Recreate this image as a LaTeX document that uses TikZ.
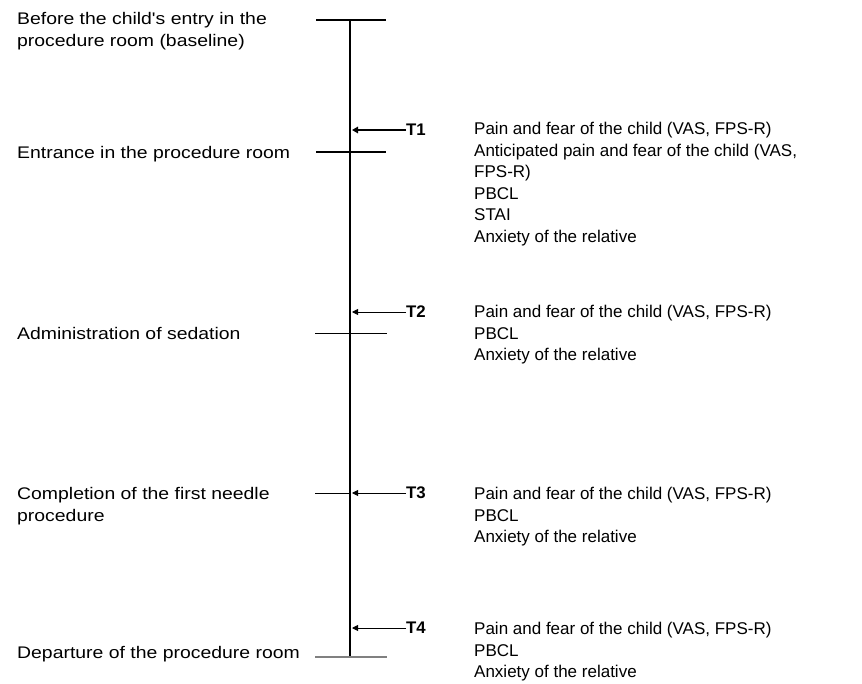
\documentclass[tikz,border=0pt]{standalone}
\usepackage{fontspec}
\setmainfont{Liberation Sans}
\newfontfamily\leftfont[FakeStretch=1.155]{Liberation Sans}
\usetikzlibrary{arrows.meta}
\begin{document}
\begin{tikzpicture}[x=1pt,y=-1pt,
  lbl/.style={anchor=base west,inner sep=0pt,font=\leftfont\fontsize{16.8}{21.6}\selectfont},
  rtxt/.style={anchor=base west,inner sep=0pt,align=left,font=\fontsize{17}{21.6}\selectfont},
  tlbl/.style={anchor=west,inner sep=0pt,font=\bfseries\fontsize{16.8}{20}\selectfont},
  axis/.style={line width=1.6pt},
  tick/.style={line width=1.1pt},
  thintick/.style={line width=0.8pt},
  arr/.style={-{Triangle[length=6pt,width=6pt]},line width=0.9pt},
  arrthick/.style={-{Triangle[length=6pt,width=6.5pt]},line width=1.4pt}
]
\useasboundingbox (0,0) rectangle (862,684);
% axis points
\coordinate (top) at (350,20);
\coordinate (bot) at (350,657);
\coordinate (topL) at (316,20);
\coordinate (topR) at (386,20);
\coordinate (e1L) at (316,152);
\coordinate (e1R) at (386,152);
\coordinate (e2L) at (315,333);
\coordinate (e2R) at (387,333);
\coordinate (e3L) at (315,493);
\coordinate (e3R) at (350,493);
\coordinate (e4L) at (315,657);
\coordinate (e4R) at (387,657);
\coordinate (a1) at (352,130);
\coordinate (a2) at (352,312);
\coordinate (a3) at (352,493);
\coordinate (a4) at (352,628);

\draw[axis] (top) -- (bot);
\draw[tick] (topL) -- (topR);
\draw[line width=1.3pt] (e1L) -- (e1R);
\draw[thintick] (e2L) -- (e2R);
\draw[thintick] (e3L) -- (e3R);
\draw[line width=1.2pt,gray] (e4L) -- (e4R);

% T labels and arrows
\node[tlbl] (t1) at (406,130) {T1};
\node[tlbl] (t2) at (406,312) {T2};
\node[tlbl] (t3) at (406,493) {T3};
\node[tlbl] (t4) at (406,628) {T4};
\draw[arrthick] (t1.west) -- (a1);
\draw[arr] (t2.west) -- (a2);
\draw[arr] (t3.west) -- (a3);
\draw[arr] (t4.west) -- (a4);

% left labels
\node[lbl] (l0a) at (17,25) {Before the child's entry in the};
\node[lbl] (l0b) at (17,47) {procedure room (baseline)};
\node[lbl] (l1) at (17,159) {Entrance in the procedure room};
\node[lbl] (l2) at (17,340) {Administration of sedation};
\node[lbl] (l3a) at (17,499) {Completion of the first needle};
\node[lbl] (l3b) at (17,521) {procedure};
\node[lbl] (l4) at (17,658) {Departure of the procedure room};

% right texts
\node[rtxt] (r1a) at (474,135) {Pain and fear of the child (VAS, FPS-R)};
\node[rtxt] (r1b) at (474,157) {Anticipated pain and fear of the child (VAS,};
\node[rtxt] (r1c) at (474,178) {FPS-R)};
\node[rtxt] (r1d) at (474,200) {PBCL};
\node[rtxt] (r1e) at (474,221) {STAI};
\node[rtxt] (r1f) at (474,243) {Anxiety of the relative};

\node[rtxt] (r2a) at (474,318) {Pain and fear of the child (VAS, FPS-R)};
\node[rtxt] (r2b) at (474,340) {PBCL};
\node[rtxt] (r2c) at (474,361) {Anxiety of the relative};

\node[rtxt] (r3a) at (474,499) {Pain and fear of the child (VAS, FPS-R)};
\node[rtxt] (r3b) at (474,521) {PBCL};
\node[rtxt] (r3c) at (474,542) {Anxiety of the relative};

\node[rtxt] (r4a) at (474,634) {Pain and fear of the child (VAS, FPS-R)};
\node[rtxt] (r4b) at (474,656) {PBCL};
\node[rtxt] (r4c) at (474,677) {Anxiety of the relative};
\end{tikzpicture}
\end{document}
